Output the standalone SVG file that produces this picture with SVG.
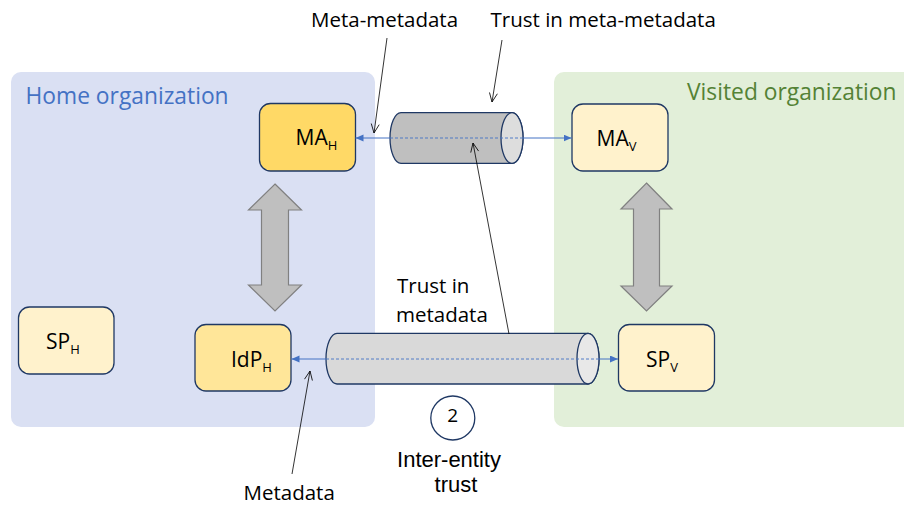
<svg xmlns="http://www.w3.org/2000/svg" width="904" height="506" viewBox="0 0 904 506">
<style>
text{font-family:"Open Sans","Liberation Sans",Arial,sans-serif;fill:#000}
tspan{fill:#000}
.lbl{font-size:20.5px}
.nl{font-size:21px}
.sub{font-size:13px}
.ie{font-family:"Liberation Sans",Arial,sans-serif;font-size:22px}
.node{stroke:#1F3864;stroke-width:1.3}
.dk{fill:#FFD966}
.md{fill:#FFE699}
.lt{fill:#FFF2CC}
.cyl{stroke:#1F3864;stroke-width:1.3}
.dbl{fill:#BFBFBF;stroke:#808080;stroke-width:1.2}
.blue{stroke:#4472C4;stroke-width:1;fill:none}
.dash{stroke:#4472C4;stroke-width:0.9;stroke-dasharray:3 2;fill:none}
.lead{stroke:#000;stroke-width:0.8;fill:none}
</style>
<defs>
<marker id="ah" markerUnits="userSpaceOnUse" markerWidth="10" markerHeight="8" refX="8" refY="3.5" orient="auto"><path d="M0,0 L8,3.5 L0,7 Z" fill="#4472C4"/></marker>
<marker id="open" markerUnits="userSpaceOnUse" markerWidth="12" markerHeight="10" refX="10" refY="4.5" orient="auto"><path d="M1,0.5 L10,4.5 L1,8.5" fill="none" stroke="#000" stroke-width="0.8"/></marker>
</defs>
<g id="home-org">
<rect x="11" y="72" width="364" height="355" rx="10" fill="#DAE0F3"/>
<text x="25.5" y="104" style="font-size:22.8px;fill:#4472C4">Home organization</text>
</g>
<g id="visited-org">
<rect x="554" y="72" width="370" height="355" rx="10" fill="#E2EFD9"/>
<text x="687" y="100" style="font-size:22.8px;fill:#548235">Visited organization</text>
</g>
<g id="arrow-home">
<polygon class="dbl" points="275,184 301.5,210 288.5,210 288.5,285 301.5,285 275,311 248.5,285 261.5,285 261.5,210 248.5,210"/>
</g>
<g id="arrow-visited">
<polygon class="dbl" points="646.5,183 672,209 659.5,209 659.5,286 672,286 646.5,311 621,286 633.5,286 633.5,209 621,209"/>
</g>
<g id="MA_H">
<rect class="node dk" x="259.5" y="103.5" width="96" height="67.5" rx="11"/>
<text class="nl" x="295.5" y="145">MA<tspan class="sub" dy="5">H</tspan></text>
</g>
<g id="MA_V">
<rect class="node lt" x="572" y="104" width="96" height="67" rx="11"/>
<text class="nl" x="596.5" y="145.5">MA<tspan class="sub" dy="5">V</tspan></text>
</g>
<g id="SP_H">
<rect class="node lt" x="18.5" y="307" width="95.5" height="67" rx="11"/>
<text class="nl" x="46" y="348.5">SP<tspan class="sub" dy="5">H</tspan></text>
</g>
<g id="IdP_H">
<rect class="node md" x="195" y="324.5" width="96" height="66.5" rx="11"/>
<text class="nl" x="231" y="366.5">IdP<tspan class="sub" dy="5">H</tspan></text>
</g>
<g id="SP_V">
<rect class="node lt" x="618.5" y="324.5" width="96" height="66.5" rx="11"/>
<text class="nl" x="646" y="366.5">SP<tspan class="sub" dy="5">V</tspan></text>
</g>
<g id="trust-meta-metadata">
<path class="cyl" fill="#BFBFBF" d="M401,112.7 L512,112.7 A11 25.3 0 0 1 512,163.3 L401,163.3 A11 25.3 0 0 1 401,112.7 Z"/>
<ellipse class="cyl" cx="512" cy="138" rx="11" ry="25.3" fill="#DDDDDD"/>
</g>
<g id="trust-metadata">
<path class="cyl" fill="#D9D9D9" d="M337,333.4 L588,333.4 A11 25.3 0 0 1 588,384 L337,384 A11 25.3 0 0 1 337,333.4 Z"/>
<ellipse class="cyl" cx="588" cy="358.7" rx="11" ry="25.3" fill="#E8E8E8"/>
</g>
<g id="inter-entity">
<circle cx="452.8" cy="418" r="22" fill="#FFFFFF" stroke="#1F3864" stroke-width="1.3"/>
<text x="452.8" y="421.5" style="font-size:19px" text-anchor="middle">2</text>
</g>
<g id="connectors">
<line class="blue" x1="390" y1="138" x2="355.5" y2="138" marker-end="url(#ah)"/>
<line class="dash" x1="390" y1="138" x2="523" y2="138"/>
<line class="blue" x1="523" y1="138" x2="571.5" y2="138" marker-end="url(#ah)"/>
<line class="blue" x1="326" y1="359" x2="291.5" y2="359" marker-end="url(#ah)"/>
<line class="dash" x1="326" y1="359" x2="599" y2="359"/>
<line class="blue" x1="599" y1="359" x2="618" y2="359" marker-end="url(#ah)"/>
<line class="lead" x1="387" y1="38" x2="374" y2="133" marker-end="url(#open)"/>
<line class="lead" x1="502" y1="40" x2="492" y2="102" marker-end="url(#open)"/>
<line class="lead" x1="509" y1="334" x2="473" y2="143" marker-end="url(#open)"/>
<line class="lead" x1="292" y1="474" x2="310" y2="371" marker-end="url(#open)"/>
</g>
<g id="labels">
<text class="lbl" x="311" y="26.7">Meta-metadata</text>
<text class="lbl" x="490.5" y="26.7">Trust in meta-metadata</text>
<text class="lbl" x="397" y="293">Trust in<tspan x="396" y="321.7">metadata</tspan></text>
<text class="ie" x="449" y="467" text-anchor="middle">Inter-entity</text>
<text class="ie" x="456" y="492" text-anchor="middle">trust</text>
<text class="lbl" x="243.5" y="500">Metadata</text>
</g>
</svg>
